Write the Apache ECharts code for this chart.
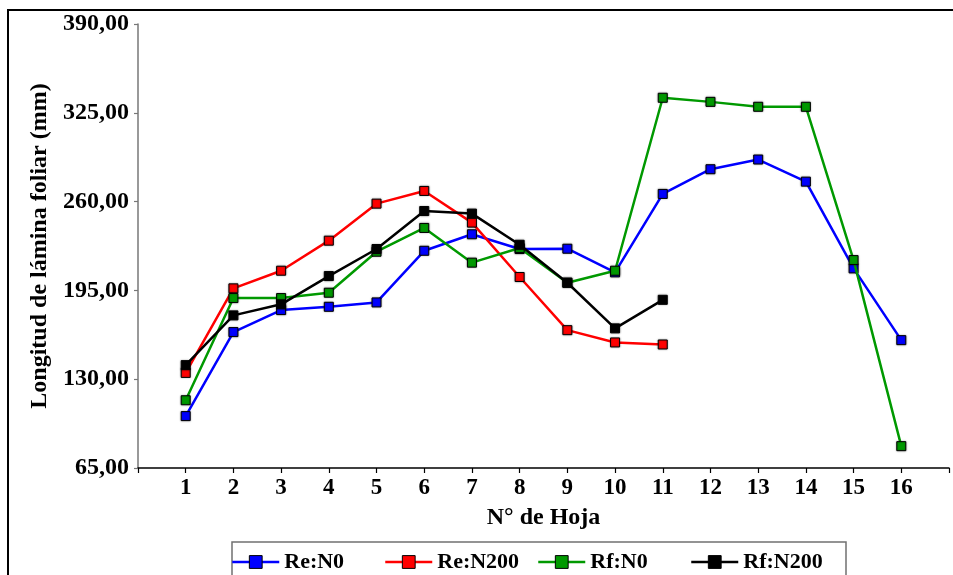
<!DOCTYPE html>
<html>
<head>
<meta charset="utf-8">
<script src="https://cdn.jsdelivr.net/npm/echarts@6/dist/echarts.min.js"></script>
<style>
  html, body { margin: 0; padding: 0; background: #fff; }
  #chart { width: 953px; height: 575px; }
</style>
</head>
<body>
<div id="chart"></div>
<script>
// Leaf number (N° de Hoja) and blade length per treatment, in mm
const hojas = [1, 2, 3, 4, 5, 6, 7, 8, 9, 10, 11, 12, 13, 14, 15, 16];
const reN0   = [103, 164.5, 180.6, 183, 186.2, 224, 236.1, 225.3, 225.5, 208.2, 265.6, 283.7, 290.8, 274.6, 211.1, 158.6];
const reN200 = [134.6, 196.5, 209.4, 231.4, 258.5, 267.8, 244.6, 204.8, 165.9, 156.9, 155.4];
const rfN0   = [114.6, 189.4, 189.4, 193.3, 223.3, 240.7, 215.3, 226, 200.6, 209.4, 336, 333, 329.4, 329.4, 217.2, 81];
const rfN200 = [140.3, 176.7, 184.8, 205.5, 225.3, 253.1, 251.2, 228.4, 200.6, 167.2, 188.1];
const yTicks = [65, 130, 195, 260, 325, 390];

const serieNames  = ['Re:N0', 'Re:N200', 'Rf:N0', 'Rf:N200'];
const serieValues = [reN0, reN200, rfN0, rfN200];
const serieColors = ['#0000ff', '#ff0000', '#009900', '#000000'];

const font = '"Liberation Serif", "Times New Roman", serif';

const chart = echarts.init(document.getElementById('chart'), null, { renderer: 'canvas' });

const series = serieNames.map((name, k) => ({
  name: name,
  type: 'line',
  data: serieValues[k].map((v, i) => [hojas[i], v]),
  symbol: 'rect',
  symbolSize: 9,
  showSymbol: true,
  lineStyle: { color: serieColors[k], width: 2.5 },
  itemStyle: {
    color: serieColors[k],
    borderColor: '#000',
    borderWidth: 1,
    shadowColor: 'rgba(0,0,0,0.35)',
    shadowBlur: 2
  },
  emphasis: { disabled: true },
  z: 2 + k
}));

// One legend block per series, evenly spaced inside the framed key
const legends = serieNames.map((name, k) => ({
  data: [name],
  left: 231 + k * 153,
  top: 551,
  itemWidth: 47,
  itemHeight: 16,
  padding: 0,
  selectedMode: false,
  textStyle: { fontFamily: font, fontWeight: 'bold', fontSize: 22, color: '#000' },
  itemStyle: { borderColor: '#000', borderWidth: 1 },
  lineStyle: { width: 2.5 }
}));

chart.setOption({
  animation: false,
  backgroundColor: '#fff',
  textStyle: { fontFamily: font },
  grid: { left: 138, right: 4, top: 24, bottom: 107, containLabel: false },
  xAxis: {
    type: 'value',
    min: 0,
    max: 17,
    interval: 1,
    name: 'N° de Hoja',
    nameLocation: 'middle',
    nameGap: 38,
    nameTextStyle: { fontFamily: font, fontWeight: 'bold', fontSize: 24, color: '#000' },
    axisLine: { lineStyle: { color: '#000', width: 1.5 } },
    axisTick: { length: 5, lineStyle: { color: '#000', width: 1.2 } },
    axisLabel: {
      fontFamily: font, fontWeight: 'bold', fontSize: 23, color: '#000', margin: 9,
      formatter: v => (hojas.indexOf(v) >= 0 ? String(v) : '')
    },
    splitLine: { show: false }
  },
  yAxis: {
    type: 'value',
    min: yTicks[0],
    max: yTicks[yTicks.length - 1],
    interval: 65,
    name: 'Longitud de lámina foliar (mm)',
    nameLocation: 'middle',
    nameGap: 84,
    nameTextStyle: { fontFamily: font, fontWeight: 'bold', fontSize: 24, color: '#000' },
    axisLine: { show: true, lineStyle: { color: '#777', width: 1.5 } },
    axisTick: { show: true, length: 4, lineStyle: { color: '#777', width: 1.2 } },
    axisLabel: {
      fontFamily: font, fontWeight: 'bold', fontSize: 24, color: '#000', margin: 9,
      formatter: v => v.toFixed(2).replace('.', ',')
    },
    splitLine: { show: false }
  },
  legend: legends,
  graphic: [
    {
      type: 'rect',
      silent: true,
      shape: { x: 8, y: 10, width: 1000, height: 700 },
      style: { fill: 'none', stroke: '#000', lineWidth: 2 }
    },
    {
      type: 'rect',
      silent: true,
      shape: { x: 232, y: 542, width: 614, height: 100 },
      style: { fill: 'none', stroke: '#707070', lineWidth: 1.5 }
    }
  ],
  series: series
});
</script>
</body>
</html>
